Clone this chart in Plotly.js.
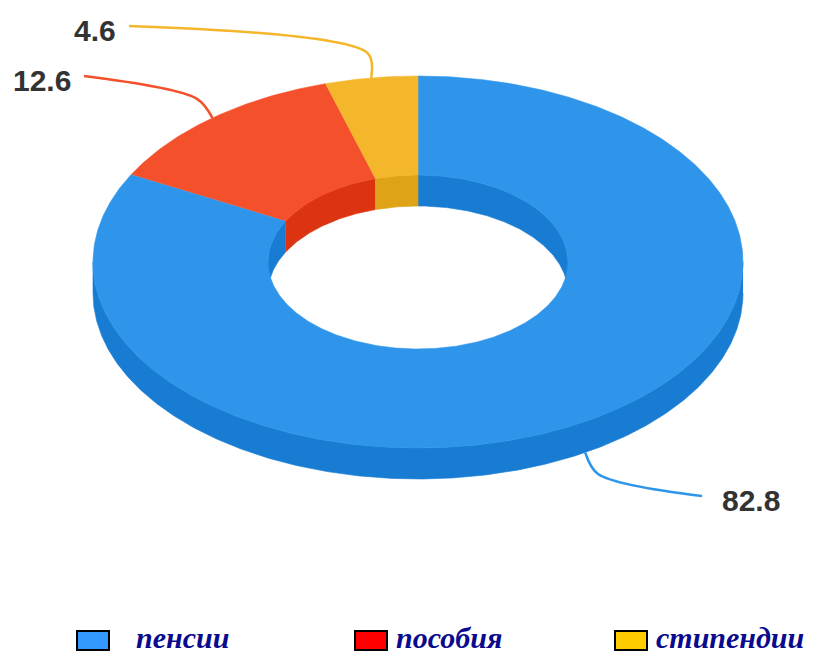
<!DOCTYPE html>
<html>
<head>
<meta charset="utf-8">
<script src="https://cdn.plot.ly/plotly-3.0.1.min.js"></script>
<style>html,body{margin:0;padding:0;background:#fff;}#chart{width:816px;height:655px;}</style>
</head>
<body>
<div id="chart"></div>
<script>
// ---- data ----
const categories = ["пенсии", "пособия", "стипендии"];
const values = [82.8, 12.6, 4.6];
const valueLabels = ["82.8", "12.6", "4.6"];

// ---- styles ----
const topColors = ["#2f95ea", "#f4502b", "#f4b72b"];
const sideColors = ["#187cd3", "#dc3411", "#dea316"];
const legendColors = ["#3399ff", "#ff0000", "#ffcc00"];

// geometry (layout constants, in pixel-like axis units)
const cx = 418, cy = 262, rx = 325, ry = 186, irx = 150, iry = 87, depth = 31;
const labelPos = [[720, 500, "left"], [73, 80, "right"], [118, 30, "right"]];

const total = values.reduce((a, b) => a + b, 0);
const rad = d => d * Math.PI / 180;
function pt(a, b, deg, dz) {
  const t = rad(deg);
  return [cx + a * Math.sin(t), cy - b * Math.cos(t) + dz];
}
function arc(a, b, d0, d1, dz) {
  const n = Math.max(2, Math.ceil(Math.abs(d1 - d0) * 2));
  const out = [];
  for (let i = 0; i <= n; i++) out.push(pt(a, b, d0 + (d1 - d0) * i / n, dz));
  return out;
}
function poly(points, color) {
  return {
    type: "scatter", mode: "lines", fill: "toself", fillcolor: color,
    x: points.map(p => p[0]), y: points.map(p => p[1]),
    line: {color: color, width: 0.6}, hoverinfo: "skip", showlegend: false
  };
}
function intersect(a0, a1, b0, b1) {
  const lo = Math.max(a0, b0), hi = Math.min(a1, b1);
  return hi > lo ? [lo, hi] : null;
}

// slice angles
const slices = [];
let acc = 0;
values.forEach((v, i) => {
  const a0 = acc / total * 360;
  acc += v;
  const a1 = acc / total * 360;
  slices.push([a0, a1]);
});

const traces = [];
// inner back wall (visible through hole)
slices.forEach((s, i) => {
  [[0, 90], [270, 360]].forEach(r => {
    const seg = intersect(s[0], s[1], r[0], r[1]);
    if (seg) {
      const p = arc(irx, iry, seg[0], seg[1], 0).concat(arc(irx, iry, seg[1], seg[0], depth));
      traces.push(poly(p, sideColors[i]));
    }
  });
});
// outer front wall
slices.forEach((s, i) => {
  const seg = intersect(s[0], s[1], 90, 270);
  if (seg) {
    const p = arc(rx, ry, seg[0], seg[1], 0).concat(arc(rx, ry, seg[1], seg[0], depth));
    traces.push(poly(p, sideColors[i]));
  }
});
// top face
slices.forEach((s, i) => {
  const p = arc(rx, ry, s[0], s[1], 0).concat(arc(irx, iry, s[1], s[0], 0));
  traces.push(poly(p, topColors[i]));
});
// connectors
const annotations = [];
slices.forEach((s, i) => {
  const mid = (s[0] + s[1]) / 2;
  const front = Math.cos(rad(mid)) < 0;
  const start = pt(rx, ry, mid, front ? depth : 0);
  const ux = Math.sin(rad(mid)), uy = -Math.cos(rad(mid));
  const elbow = [start[0] + ux * 25, start[1] + uy * 25];
  const lp = labelPos[i];
  const endX = lp[2] === "left" ? lp[0] - 18 : lp[0] + 11;
  const end = [endX, lp[1] - 4];
  traces.push({
    type: "scatter", mode: "lines",
    x: [start[0], elbow[0], end[0]], y: [start[1], elbow[1], end[1]],
    line: {color: topColors[i], width: 2.5, shape: "spline", smoothing: 0.9},
    hoverinfo: "skip", showlegend: false
  });
  annotations.push({
    x: lp[0], y: lp[1], xref: "x", yref: "y", text: valueLabels[i],
    showarrow: false, xanchor: lp[2], yanchor: "middle",
    font: {family: "Liberation Sans, Arial, sans-serif", size: 30, color: "#333333", weight: 700,
           textshadow: "1px 1px 1px #fff, -1px -1px 1px #fff, 1px -1px 1px #fff, -1px 1px 1px #fff"}
  });
});

// legend (manual)
const legendBoxX = [77, 355, 615];
const legendTextX = [135, 395, 655];
const shapes = [];
categories.forEach((c, i) => {
  shapes.push({type: "rect", xref: "x", yref: "y", x0: legendBoxX[i], x1: legendBoxX[i] + 32,
    y0: 631, y1: 650, fillcolor: legendColors[i], line: {color: "#000", width: 2}});
  annotations.push({
    x: legendTextX[i], y: 655, xref: "x", yref: "y", text: "<b><i>" + c + "</i></b>",
    showarrow: false, xanchor: "left", yanchor: "bottom", borderpad: 0,
    font: {family: "Liberation Serif, Times New Roman, serif", size: 30, color: "#0a0a8e"}
  });
});

const layout = {
  width: 816, height: 655,
  margin: {l: 0, r: 0, t: 0, b: 0},
  paper_bgcolor: "#fff", plot_bgcolor: "#fff",
  xaxis: {range: [0, 816], visible: false, fixedrange: true},
  yaxis: {range: [655, 0], visible: false, fixedrange: true},
  showlegend: false,
  annotations: annotations,
  shapes: shapes
};
Plotly.newPlot("chart", traces, layout, {staticPlot: true});
</script>
</body>
</html>
